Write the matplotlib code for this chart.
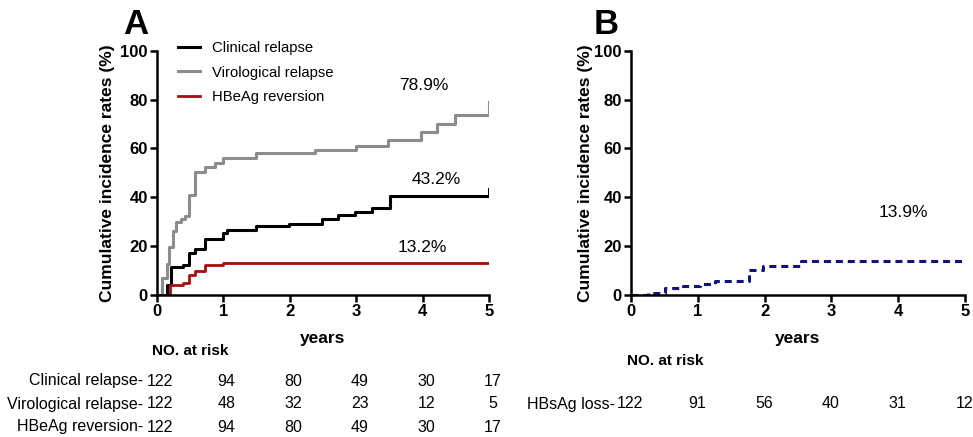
import matplotlib
matplotlib.use("Agg")
import matplotlib.pyplot as plt
import matplotlib.transforms as mtransforms

plt.rcParams['font.family'] = ['Liberation Sans', 'DejaVu Sans']

# Panel A: cumulative incidence step curves (years, %)
clin_t = [0, 0.15, 0.22, 0.40, 0.49, 0.58, 0.73, 0.99, 1.06, 1.50, 1.99,
          2.48, 2.73, 2.98, 3.23, 3.50, 5.0, 5.0]
clin_v = [0, 4.0, 11.5, 12.3, 17.3, 18.6, 23.0, 25.5, 26.4, 28.2, 29.0,
          31.0, 32.5, 34.0, 35.5, 40.5, 40.5, 43.2]

viro_t = [0, 0.075, 0.15, 0.19, 0.24, 0.29, 0.37, 0.42, 0.49, 0.58, 0.73,
          0.88, 0.99, 1.50, 2.38, 3.00, 3.48, 3.98, 4.21, 4.49, 5.0, 5.0]
viro_v = [0, 7.0, 12.4, 19.7, 26.0, 30.0, 31.0, 32.3, 41.0, 50.5, 52.5,
          54.0, 56.0, 58.2, 59.5, 61.2, 63.5, 66.6, 70.0, 73.9, 73.9, 78.9]

hbeag_t = [0, 0.20, 0.40, 0.49, 0.58, 0.73, 0.99, 5.0]
hbeag_v = [0, 4.0, 5.0, 8.2, 9.6, 12.2, 13.2, 13.2]

# Panel B: HBsAg loss
hbs_t = [0, 0.25, 0.51, 0.78, 1.03, 1.26, 1.76, 1.98, 2.55, 5.0]
hbs_v = [0, 0.6, 2.6, 3.4, 4.4, 5.6, 10.0, 11.6, 13.9, 13.9]

years = [0, 1, 2, 3, 4, 5]
risk_rows_a = ["Clinical relapse-", "Virological relapse-", "HBeAg reversion-"]
risk_a = [[122, 94, 80, 49, 30, 17],
          [122, 48, 32, 23, 12, 5],
          [122, 94, 80, 49, 30, 17]]
risk_rows_b = ["HBsAg loss-"]
risk_b = [[122, 91, 56, 40, 31, 12]]

W, H = 973, 437
fig = plt.figure(figsize=(W / 100, H / 100), dpi=100)


def px_axes(left, right, top, bottom):
    return fig.add_axes([left / W, 1 - bottom / H, (right - left) / W,
                         (bottom - top) / H])


def style_axes(ax):
    ax.set_xlim(0, 5)
    ax.set_ylim(0, 100)
    ax.set_xticks(years)
    ax.set_yticks([0, 20, 40, 60, 80, 100])
    for side in ['top', 'right']:
        ax.spines[side].set_visible(False)
    for side in ['left', 'bottom']:
        ax.spines[side].set_linewidth(1.8)
    ax.tick_params(width=1.8, length=5, labelsize=12, pad=1.5)
    for lab in ax.get_xticklabels() + ax.get_yticklabels():
        lab.set_fontweight('bold')
    ax.set_ylabel('Cumulative incidence rates (%)', fontsize=12.5,
                  fontweight='bold')
    ax.set_xlabel('years', fontsize=12.5, fontweight='bold')
    ax.xaxis.set_label_coords(0.5, (294.7 - 338) / 243.7)
    ax.xaxis.label.set_va('center')


def risk_table(ax, rows, counts, label_x, head_x, head_y, row_ys, dx):
    trans = mtransforms.blended_transform_factory(ax.transData, fig.transFigure)
    ax.text(head_x, 1 - head_y / H, 'NO. at risk', transform=trans,
            ha='center', va='center', fontsize=11, fontweight='bold')
    for name, vals, ry in zip(rows, counts, row_ys):
        ax.text(label_x, 1 - ry / H, name, transform=trans, ha='right',
                va='center', fontsize=11.5)
        for x, n in zip(years, vals):
            ax.text(x + dx, 1 - ry / H, str(n), transform=trans,
                    ha='center', va='center', fontsize=11.5)


# ---- Panel A ----
axA = px_axes(156.7, 489.3, 51, 294.7)
axA.step(clin_t, clin_v, where='post', color='black', lw=2.2,
         label='Clinical relapse')
axA.step(viro_t, viro_v, where='post', color='#8c8c8c', lw=2.2,
         label='Virological relapse')
axA.step(hbeag_t, hbeag_v, where='post', color='#a80d0d', lw=2.0,
         label='HBeAg reversion')
style_axes(axA)
axA.yaxis.set_label_coords(-0.125, 0.5)
axA.legend(loc='upper left', bbox_to_anchor=(0.064, 1.04), frameon=False,
           fontsize=10.7, handlelength=1.5, handletextpad=0.8,
           labelspacing=0.7, borderpad=0, borderaxespad=0)
axA.text(4.02, 86, '78.9%', ha='center', va='center', fontsize=12.5)
axA.text(4.2, 47.4, '43.2%', ha='center', va='center', fontsize=12.5)
axA.text(4.0, 19.3, '13.2%', ha='center', va='center', fontsize=12.5)
fig.text(136 / W, 1 - 24 / H, 'A', fontsize=25, fontweight='bold',
         ha='center', va='center')
risk_table(axA, risk_rows_a, risk_a, -0.2, 0.5, 351, [381, 404, 427], 0.05)

# ---- Panel B ----
axB = px_axes(631, 965, 51, 294.7)
axB.step(hbs_t, hbs_v, where='post', color='#12127f', lw=2.2,
         ls=(0, (2.3, 1.6)))
style_axes(axB)
axB.yaxis.set_label_coords(-0.114, 0.5)
axB.text(4.07, 33.8, '13.9%', ha='center', va='center', fontsize=12.5)
fig.text(606 / W, 1 - 24 / H, 'B', fontsize=25, fontweight='bold',
         ha='center', va='center')
risk_table(axB, risk_rows_b, risk_b, -0.24, 0.52, 361, [404], -0.01)

fig.savefig('out.png', dpi=100)
